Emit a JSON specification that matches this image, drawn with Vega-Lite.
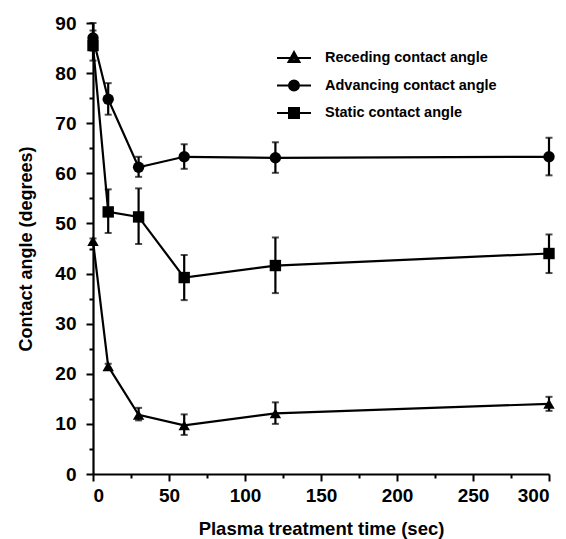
{
  "$schema": "https://vega.github.io/schema/vega-lite/v6.json",
  "width": 456,
  "height": 451,
  "autosize": {"type": "none"},
  "padding": {"left": 93, "top": 23, "right": 17, "bottom": 65},
  "background": "white",
  "config": {
    "view": {"stroke": null},
    "font": "Liberation Sans",
    "axis": {
      "grid": false,
      "domainColor": "black",
      "domainWidth": 2.2,
      "tickColor": "black",
      "tickWidth": 2,
      "labelFont": "Liberation Sans",
      "labelFontWeight": "bold",
      "labelFontSize": 19,
      "labelColor": "black",
      "titleFont": "Liberation Sans",
      "titleFontWeight": "bold",
      "titleColor": "black"
    }
  },
  "data": {
    "values": [
      {"series": "Receding contact angle", "t": 0, "angle": 46.5, "lo": 46.0, "hi": 47.0},
      {"series": "Receding contact angle", "t": 10, "angle": 21.5, "lo": 21.0, "hi": 22.0},
      {"series": "Receding contact angle", "t": 30, "angle": 11.8, "lo": 10.7, "hi": 13.2},
      {"series": "Receding contact angle", "t": 60, "angle": 9.7, "lo": 7.8, "hi": 11.9},
      {"series": "Receding contact angle", "t": 120, "angle": 12.1, "lo": 10.0, "hi": 14.3},
      {"series": "Receding contact angle", "t": 300, "angle": 14.0, "lo": 12.6, "hi": 15.4},
      {"series": "Advancing contact angle", "t": 0, "angle": 87.0, "lo": 84.5, "hi": 90.0},
      {"series": "Advancing contact angle", "t": 10, "angle": 74.8, "lo": 71.7, "hi": 78.0},
      {"series": "Advancing contact angle", "t": 30, "angle": 61.2, "lo": 59.3, "hi": 63.3},
      {"series": "Advancing contact angle", "t": 60, "angle": 63.3, "lo": 60.9, "hi": 65.8},
      {"series": "Advancing contact angle", "t": 120, "angle": 63.1, "lo": 60.1, "hi": 66.2},
      {"series": "Advancing contact angle", "t": 300, "angle": 63.3, "lo": 59.6, "hi": 67.1},
      {"series": "Static contact angle", "t": 0, "angle": 85.5, "lo": 82.5, "hi": 88.5},
      {"series": "Static contact angle", "t": 10, "angle": 52.3, "lo": 48.1, "hi": 56.8},
      {"series": "Static contact angle", "t": 30, "angle": 51.3, "lo": 45.9, "hi": 57.0},
      {"series": "Static contact angle", "t": 60, "angle": 39.2, "lo": 34.7, "hi": 43.7},
      {"series": "Static contact angle", "t": 120, "angle": 41.6, "lo": 36.1, "hi": 47.2},
      {"series": "Static contact angle", "t": 300, "angle": 44.0, "lo": 40.1, "hi": 47.8}
    ]
  },
  "encoding": {
    "x": {
      "field": "t", "type": "quantitative",
      "scale": {"domain": [0, 300], "nice": false, "zero": true},
      "axis": {
        "values": [0, 25, 50, 75, 100, 125, 150, 175, 200, 225, 250, 275, 300],
        "labelExpr": "datum.value % 50 === 0 ? datum.label : ''",
        "tickSize": {"condition": {"test": "datum.value % 50 === 0", "value": 7}, "value": 4},
        "labelPadding": 5,
        "title": "Plasma treatment time (sec)",
        "titleFontSize": 18.5,
        "titlePadding": 14
      }
    },
    "y": {
      "field": "angle", "type": "quantitative",
      "scale": {"domain": [0, 90], "nice": false},
      "axis": {
        "values": [0, 5, 10, 15, 20, 25, 30, 35, 40, 45, 50, 55, 60, 65, 70, 75, 80, 85, 90],
        "labelExpr": "datum.value % 10 === 0 ? datum.label : ''",
        "tickSize": {"condition": {"test": "datum.value % 10 === 0", "value": 7}, "value": 4},
        "labelPadding": 10,
        "title": "Contact angle (degrees)",
        "titleFontSize": 18,
        "titlePadding": 19
      }
    }
  },
  "layer": [
    {
      "mark": {"type": "line", "color": "black", "strokeWidth": 2.2},
      "encoding": {"detail": {"field": "series"}}
    },
    {
      "mark": {"type": "errorbar", "ticks": {"size": 7, "thickness": 2, "color": "black"}, "rule": {"strokeWidth": 2.2, "color": "black"}},
      "encoding": {
        "y": {"field": "lo", "type": "quantitative"},
        "y2": {"field": "hi"},
        "detail": {"field": "series"}
      }
    },
    {
      "mark": {"type": "point", "filled": true, "color": "black", "opacity": 1, "size": 130},
      "encoding": {
        "shape": {
          "field": "series", "type": "nominal",
          "scale": {
            "domain": ["Receding contact angle", "Advancing contact angle", "Static contact angle"],
            "range": ["triangle-up", "circle", "square"]
          },
          "legend": null
        }
      }
    },
    {
      "transform": [{"filter": "datum.t < 0"}],
      "mark": {"type": "point", "filled": false, "color": "black", "strokeWidth": 2, "opacity": 1},
      "encoding": {
        "shape": {
          "field": "series", "type": "nominal",
          "scale": {
            "domain": ["Receding contact angle", "Advancing contact angle", "Static contact angle"],
            "range": [
              "M-1.7,0H1.7M0,-0.6L0.55,0.4L-0.55,0.4ZM0,-0.236L0.253,0.225L-0.253,0.225Z",
              "M-1.7,0H1.7M-0.5,0A0.5,0.5 0 1,0 0.5,0A0.5,0.5 0 1,0 -0.5,0ZM-0.3,0A0.3,0.3 0 1,0 0.3,0A0.3,0.3 0 1,0 -0.3,0ZM-0.1,0A0.1,0.1 0 1,0 0.1,0A0.1,0.1 0 1,0 -0.1,0Z",
              "M-1.7,0H1.7M-0.5,-0.5H0.5V0.5H-0.5ZM-0.3,-0.3H0.3V0.3H-0.3ZM-0.1,-0.1H0.1V0.1H-0.1Z"
            ]
          },
          "legend": {
            "title": null,
            "orient": "none",
            "legendX": 190,
            "legendY": 24,
            "padding": 0,
            "labelFont": "Liberation Sans",
            "labelFontWeight": "bold",
            "labelFontSize": 14.5,
            "labelColor": "black",
            "labelLimit": 400,
            "gridAlign": "all",
            "rowPadding": 7.5,
            "symbolSize": 400,
            "symbolStrokeWidth": 2,
            "symbolStrokeColor": "black",
            "symbolOpacity": 1,
            "labelOffset": 20
          }
        }
      }
    }
  ],
  "resolve": {"scale": {"shape": "independent"}, "legend": {"shape": "independent"}}
}
